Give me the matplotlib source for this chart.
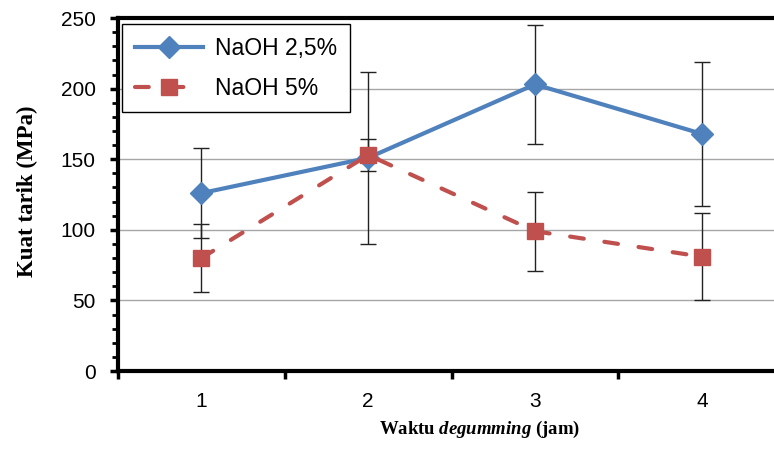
import matplotlib
matplotlib.use("Agg")
import matplotlib.pyplot as plt
from matplotlib.ticker import MultipleLocator, FixedLocator

plt.rcParams['mathtext.fontset'] = 'custom'
plt.rcParams['mathtext.it'] = 'Liberation Serif:italic:bold'
plt.rcParams['mathtext.rm'] = 'Liberation Serif:bold'

waktu = [1, 2, 3, 4]
naoh_25 = [126, 151, 203, 168]
naoh_25_err = [32, 61, 42, 51]
naoh_5 = [80, 153, 99, 81]
naoh_5_err = [24, 11, 28, 31]

blue = '#4F81BD'
red = '#C0504D'

fig = plt.figure(figsize=(7.74, 4.59), dpi=100)
ax = fig.add_axes([0.1525, 0.1917, 0.862, 0.769])

ax.errorbar(waktu, naoh_25, yerr=naoh_25_err, fmt='none', ecolor='#222222',
            elinewidth=1, capsize=6, capthick=1, zorder=3)
ax.errorbar(waktu, naoh_5, yerr=naoh_5_err, fmt='none', ecolor='#222222',
            elinewidth=1, capsize=6, capthick=1, zorder=3)
ax.plot(waktu, naoh_25, color=blue, lw=3, marker='D', ms=11,
        label='NaOH 2,5%', zorder=4)
ax.plot(waktu, naoh_5, color=red, lw=3, ls=(0, (3.3, 5.0)), marker='s', ms=11,
        dash_capstyle='round', label='NaOH 5%', zorder=4)

ax.set_xlim(0.5, 4.5)
ax.set_ylim(0, 250)
ax.set_xticks(waktu)
ax.xaxis.set_minor_locator(FixedLocator([0.5, 1.5, 2.5, 3.5, 4.5]))
ax.tick_params(axis='x', which='major', length=0, pad=15, labelsize=15)
ax.tick_params(axis='x', which='minor', length=6, width=2.5, direction='out')
ax.yaxis.set_major_locator(MultipleLocator(50))
ax.yaxis.set_minor_locator(MultipleLocator(10))
ax.tick_params(axis='y', which='major', length=6, width=2.5, labelsize=15, pad=10)
ax.tick_params(axis='y', which='minor', length=4, width=2)
for lab in ax.get_xticklabels() + ax.get_yticklabels():
    lab.set_fontfamily('Liberation Sans')

ax.grid(axis='y', color='#A6A6A6', lw=1)
ax.set_axisbelow(True)
for s in ['left', 'bottom', 'top']:
    ax.spines[s].set_linewidth(3)
ax.spines['right'].set_visible(False)

ax.set_ylabel('Kuat tarik (MPa)', fontfamily='Liberation Serif',
              fontweight='bold', fontsize=16.5)
ax.yaxis.set_label_coords(-0.12, 0.51)
ax.set_xlabel(r'Waktu $\mathit{degumming}$ (jam)', fontfamily='Liberation Serif',
              fontweight='bold', fontsize=13.5)
ax.xaxis.set_label_coords(0.542, -0.135)

leg = ax.legend(loc='upper left', bbox_to_anchor=(0.006, 0.983), borderaxespad=0,
                fancybox=False, edgecolor='black', framealpha=1,
                handlelength=3.0, handletextpad=0.5,
                prop={'family': 'Liberation Sans', 'size': 16.5},
                borderpad=0.55, labelspacing=0.75)
leg.get_frame().set_linewidth(1)

fig.savefig('out.png', dpi=100)
